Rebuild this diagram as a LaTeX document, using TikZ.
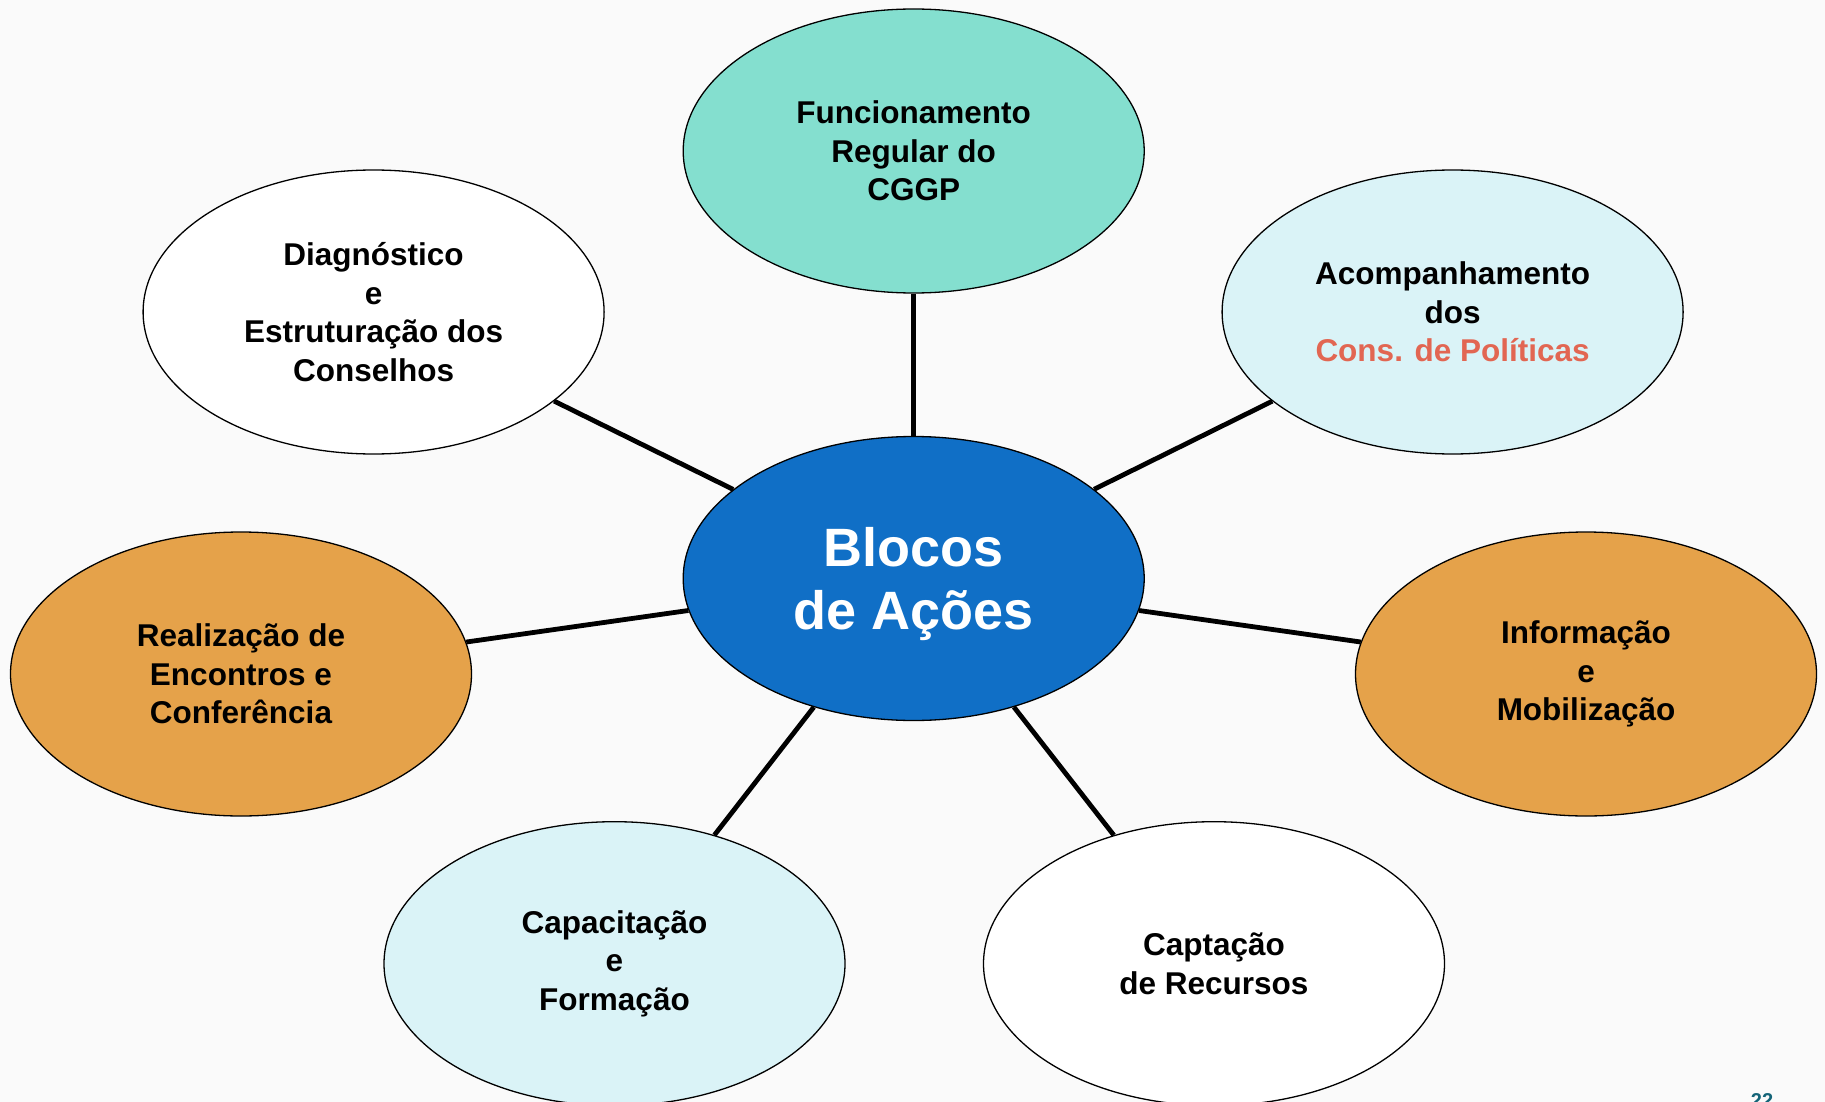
\documentclass[tikz,border=0pt]{standalone}
\usepackage{fontspec}
\setmainfont{Liberation Sans}
\usetikzlibrary{shapes.geometric}
\definecolor{bgc}{RGB}{250,250,250}
\definecolor{teal}{RGB}{132,223,207}
\definecolor{lcyan}{RGB}{218,243,247}
\definecolor{orng}{RGB}{229,162,74}
\definecolor{cblue}{RGB}{16,111,198}
\definecolor{redtxt}{RGB}{226,102,82}
\definecolor{pnum}{RGB}{20,100,120}
\begin{document}
\begin{tikzpicture}[x=1pt,y=-1pt,
  bubble/.style={ellipse,draw=black,line width=1.3pt,minimum width=461pt,minimum height=284pt,inner sep=0pt,
    align=center,font=\fontsize{31.5}{38.5}\selectfont\bfseries},
  link/.style={line width=4.8pt,black}]
\useasboundingbox[fill=bgc] (0,0) rectangle (1825,1102);
\node[bubble,fill=cblue] (c) at (913.7,578.5) {};
\node[align=center,text=white,font=\fontsize{54}{63}\selectfont\bfseries,inner sep=0pt] (ct) at (913.7,584) {Blocos\\de Ações};
\node[bubble,fill=teal] (t) at (913.7,151) {Funcionamento\\Regular do\\CGGP};
\node[bubble,fill=white] (d) at (373.6,312) {Diagnóstico\\e\\Estruturação dos\\Conselhos};
\node[bubble,fill=lcyan] (a) at (1452.6,312) {Acompanhamento\\dos\\\textcolor{redtxt}{Cons. de Políticas}};
\node[bubble,fill=orng] (r) at (241,674) {Realização de\\Encontros e\\Conferência};
\node[bubble,fill=orng] (i) at (1586,674) {Informação\\e\\Mobilização};
\node[bubble,fill=lcyan] (p) at (614.5,963.7) {Capacitação\\e\\Formação};
\node[bubble,fill=white] (g) at (1214,963.7) {Captação\\de Recursos};
\foreach \n in {t,d,a,r,i,p,g} \draw[link] (c) -- (\n);
\node[anchor=north,text=pnum,font=\fontsize{20}{24}\selectfont\bfseries,inner sep=0pt] (pn) at (1762,1093) {22};
\end{tikzpicture}
\end{document}
